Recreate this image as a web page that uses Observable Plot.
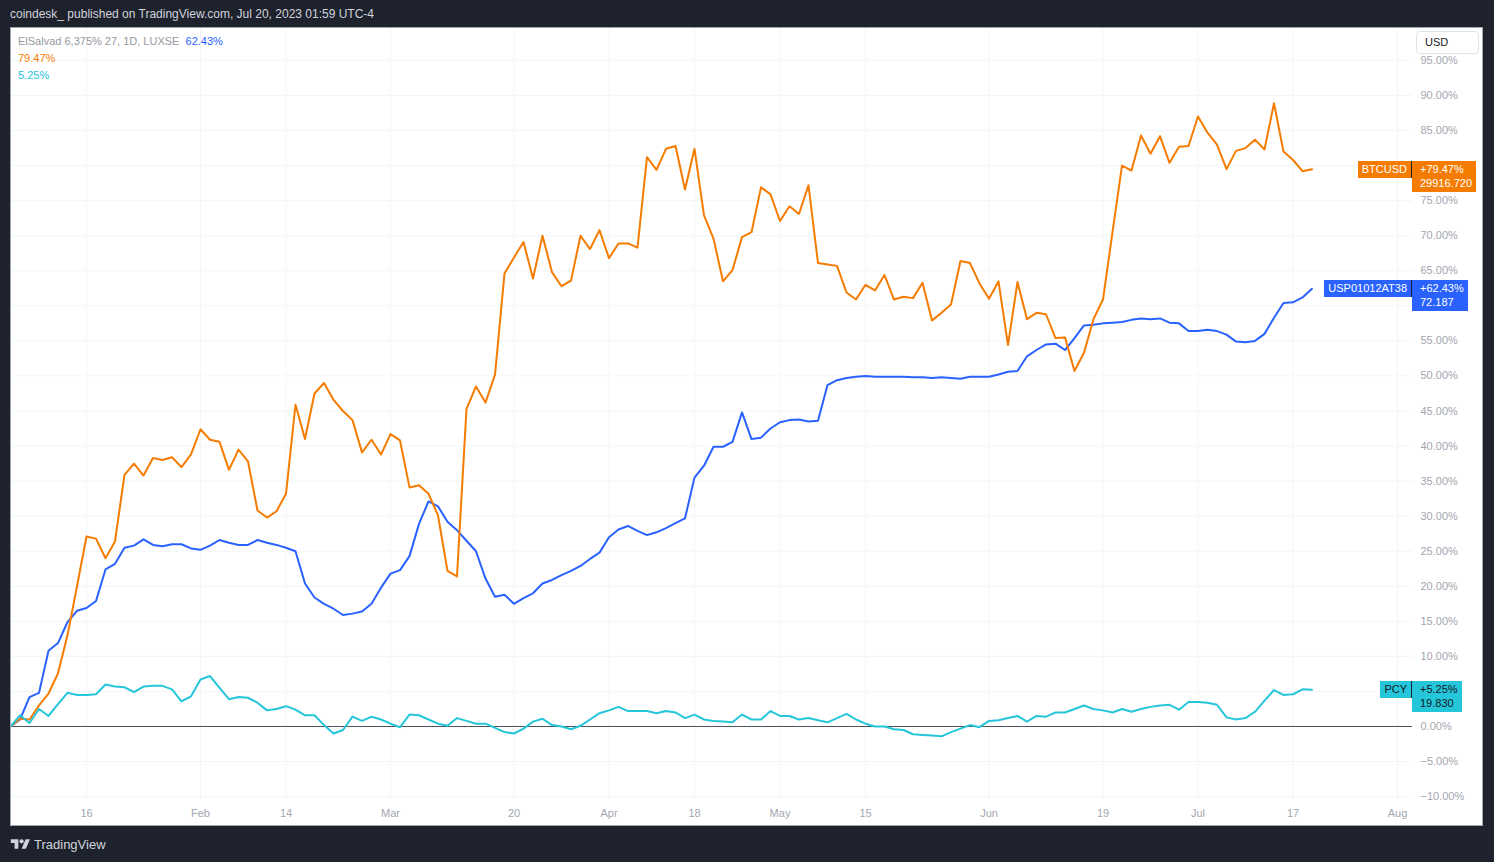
<!DOCTYPE html>
<html>
<head>
<meta charset="utf-8">
<script src="https://cdn.jsdelivr.net/npm/d3@7"></script>
<script src="https://cdn.jsdelivr.net/npm/@observablehq/plot@0.6"></script>
<style>
html,body{margin:0;padding:0;background:#1e222d;width:1494px;height:862px;overflow:hidden;font-family:"Liberation Sans",Arial,sans-serif;}
#root{position:relative;width:1494px;height:862px;}
.abs{position:absolute;}
#header{left:10px;top:6px;font-size:12px;line-height:16px;color:#d1d4dc;white-space:nowrap;}
#panel{left:10px;top:27px;width:1473px;height:799px;background:#fff;}
#border{left:10px;top:27px;width:1473px;height:799px;box-sizing:border-box;border:1px solid #a3a6af;pointer-events:none;}
#legend{left:18px;top:33px;font-size:11px;line-height:17px;white-space:nowrap;}
.tag{font-size:11px;line-height:14px;white-space:nowrap;box-sizing:border-box;}
.tagname{padding:1px 4px 2px 4px;border-right:1px solid #1e222d;}
.tagval{padding:1px 4px 2px 8px;}
#usd{left:1416px;top:31px;width:63px;height:23px;box-sizing:border-box;border:1px solid #e0e3eb;border-radius:4px;background:#fff;font-size:11px;line-height:21px;padding-left:8px;color:#131722;}
#footer{left:10px;top:836px;height:16px;display:flex;align-items:center;color:#d1d4dc;font-size:13px;}
#footer svg{margin-right:3px;}
</style>
</head>
<body>
<div id="root">
  <div id="header" class="abs">coindesk_ published on TradingView.com, Jul 20, 2023 01:59 UTC-4</div>
  <div id="panel" class="abs"></div>
  <div id="priceHolder" class="abs" style="left:10px;top:27px;width:1473px;height:773px;overflow:hidden;"></div>
  <div id="timeHolder" class="abs" style="left:10px;top:800px;width:1473px;height:26px;overflow:hidden;"></div>
  <div id="border" class="abs"></div>
  <div id="legend" class="abs"></div>
  <div id="usd" class="abs">USD</div>
  <div id="footer" class="abs">
    <svg width="21" height="14" viewBox="0 0 36 26" fill="#d1d4dc"><path d="M14 22H7V11H0V4h14v18z"/><circle cx="20" cy="8" r="4"/><path d="M28 22h-8l7.5-18h8z"/></svg>
    <span>TradingView</span>
  </div>
</div>
<script>
// ---- data ----
const tickIndex  = [8, 20, 29, 40, 53, 63, 72, 81, 90, 103, 115, 125, 135, 146];
const tickLabels = ["16", "Feb", "14", "Mar", "20", "Apr", "18", "May", "15", "Jun", "19", "Jul", "17", "Aug"];
const yTicks = [-10, -5, 0, 5, 10, 15, 20, 25, 30, 35, 40, 45, 50, 55, 60, 65, 70, 75, 80, 85, 90, 95];

// % change per trading-day bar (Jan 4 .. Jul 19, 2023)
const btc = [
  0, 1.1, 1.0, 3.0, 4.7, 7.6, 13.0, 20.0, 27.1, 26.8,
  24.0, 26.4, 35.9, 37.5, 35.8, 38.3, 38.0, 38.4, 37.0, 38.8,
  42.4, 40.9, 40.6, 36.6, 39.5, 37.8, 30.8, 29.8, 30.7, 33.2,
  45.9, 41.0, 47.5, 49.0, 46.6, 45.0, 43.7, 39.1, 40.9, 38.8,
  41.7, 40.8, 34.1, 34.4, 33.2, 30.1, 22.2, 21.4, 45.3, 48.5,
  46.2, 50.2, 64.6, 66.9, 69.1, 63.9, 70.0, 64.8, 62.8, 63.6,
  70.0, 68.1, 70.8, 66.8, 68.9, 68.9, 68.3, 81.2, 79.4, 82.4,
  82.8, 76.6, 82.4, 72.9, 69.6, 63.5, 65.1, 69.8, 70.5, 76.9,
  75.9, 72.1, 74.2, 73.1, 77.2, 66.1, 65.9, 65.7, 61.9, 60.9,
  63.0, 62.2, 64.4, 60.9, 61.3, 61.1, 63.3, 57.9, 59.0, 60.2,
  66.4, 66.1, 63.2, 61.0, 63.5, 54.4, 63.4, 58.1, 59.0, 58.8,
  55.4, 55.5, 50.7, 53.3, 58.1, 60.9, 70.5, 80.0, 79.3, 84.3,
  81.7, 84.2, 80.4, 82.7, 82.8, 87.0, 84.7, 83.0, 79.5, 82.1,
  82.5, 83.7, 82.3, 88.9, 82.0, 80.8, 79.2, 79.47
];
const bond = [
  0, 1.0, 4.2, 4.8, 10.8, 11.9, 14.9, 16.5, 16.9, 17.9,
  22.4, 23.2, 25.5, 25.8, 26.7, 25.9, 25.7, 26.0, 26.0, 25.4,
  25.2, 25.8, 26.6, 26.2, 25.9, 25.9, 26.6, 26.2, 25.9, 25.5,
  25.0, 20.4, 18.4, 17.5, 16.8, 15.9, 16.1, 16.4, 17.5, 19.8,
  21.8, 22.3, 24.3, 28.9, 32.1, 31.4, 29.2, 28.0, 26.5, 25.0,
  21.1, 18.5, 18.8, 17.5, 18.3, 19.0, 20.4, 20.9, 21.6, 22.2,
  22.9, 23.9, 24.8, 27.0, 28.1, 28.6, 27.9, 27.3, 27.7, 28.3,
  29.0, 29.7, 35.5, 37.2, 39.9, 39.9, 40.6, 44.8, 41.0, 41.2,
  42.5, 43.4, 43.7, 43.8, 43.5, 43.6, 48.7, 49.4, 49.7, 49.9,
  50.0, 49.9, 49.9, 49.9, 49.9, 49.8, 49.8, 49.7, 49.8, 49.7,
  49.6, 49.9, 49.9, 49.9, 50.2, 50.6, 50.7, 52.8, 53.7, 54.5,
  54.6, 53.7, 55.4, 57.2, 57.3, 57.5, 57.6, 57.7, 58.0, 58.2,
  58.1, 58.2, 57.6, 57.5, 56.4, 56.4, 56.6, 56.4, 55.9, 54.9,
  54.8, 55.0, 56.0, 58.3, 60.4, 60.5, 61.2, 62.43
];
const pcy = [
  0, 1.6, 0.5, 2.5, 1.5, 3.2, 4.8, 4.5, 4.5, 4.6,
  6.0, 5.7, 5.6, 4.9, 5.7, 5.8, 5.8, 5.3, 3.6, 4.3,
  6.7, 7.2, 5.5, 3.9, 4.2, 4.1, 3.4, 2.3, 2.5, 2.9,
  2.4, 1.6, 1.6, 0.2, -1.0, -0.5, 1.4, 0.8, 1.4, 1.0,
  0.4, -0.1, 1.7, 1.6, 1.0, 0.4, 0.1, 1.2, 0.8, 0.4,
  0.4, -0.2, -0.8, -1.0, -0.3, 0.7, 1.1, 0.2, 0.0, -0.4,
  0.1, 1.0, 1.9, 2.3, 2.8, 2.2, 2.2, 2.2, 1.9, 2.2,
  2.0, 1.2, 1.7, 1.0, 0.8, 0.7, 0.6, 1.7, 1.0, 1.0,
  2.2, 1.5, 1.5, 1.0, 1.2, 0.9, 0.6, 1.2, 1.8, 1.0,
  0.4, 0.0, 0.0, -0.4, -0.5, -1.1, -1.2, -1.3, -1.4, -0.8,
  -0.3, 0.2, -0.1, 0.8, 0.9, 1.2, 1.5, 0.7, 1.5, 1.4,
  2.0, 2.0, 2.5, 3.0, 2.5, 2.3, 2.0, 2.5, 2.1, 2.5,
  2.8, 3.0, 3.1, 2.4, 3.5, 3.5, 3.4, 3.1, 1.3, 1.0,
  1.2, 2.1, 3.7, 5.2, 4.5, 4.6, 5.3, 5.25
];
const seriesNames  = ["USP01012AT38", "BTCUSD", "PCY"];
const lastPrices   = ["72.187", "29916.720", "19.830"];
const legendLabel  = "ElSalvad 6,375% 27, 1D, LUXSE";

// ---- styles ----
const colors = {USP01012AT38: "#2962ff", BTCUSD: "#f57c00", PCY: "#26c6da"};
const tagText = {USP01012AT38: "#ffffff", BTCUSD: "#ffffff", PCY: "#131722"};
const seriesValues = [bond, btc, pcy];

const W = 1473, H = 773, MR = 71, barPx = 9.5;
const xDomain = [0, (W - MR) / barPx];
const yDomain = [-10.555, 99.70];
const axisColor = "#a3a6af";
const TAG_UP = 8, TAG_DOWN = 23;
const last = arr => arr[arr.length - 1];

// tick labels hidden behind the price tags (as on the reference, where the tags cover them)
const yPre = d3.scaleLinear().domain(yDomain).range([H, 0]);
const covered = t => seriesValues.some(vals => {
  const p = yPre(last(vals)), q = yPre(t);
  return q >= p - TAG_UP && q <= p + TAG_DOWN;
});
const fmt = d => covered(d) ? "" : (d < 0 ? "\u2212" : "") + Math.abs(d).toFixed(2) + "%";

const rows = seriesNames.flatMap((name, k) => seriesValues[k].map((v, i) => ({name, i, v})));

const lineMarks = seriesNames.map(name =>
  Plot.line(rows.filter(r => r.name === name), {
    x: "i", y: "v", stroke: colors[name], strokeWidth: 2, strokeLinejoin: "round"
  })
);

const price = Plot.plot({
  width: W, height: H,
  marginLeft: 0, marginRight: MR, marginTop: 0, marginBottom: 0,
  style: {background: "transparent", fontFamily: "Liberation Sans, Arial, sans-serif", fontSize: "11px", color: axisColor, maxWidth: "none"},
  x: {domain: xDomain, axis: null},
  y: {domain: yDomain, axis: "right", ticks: yTicks, tickFormat: fmt, tickSize: 0, tickPadding: 8, label: null},
  marks: [
    Plot.ruleX(tickIndex, {stroke: "#f4f5f8"}),
    Plot.ruleY(yTicks, {stroke: "#f4f5f8"}),
    Plot.ruleY([0], {stroke: "#50535e", strokeWidth: 1}),
    ...lineMarks
  ]
});
document.getElementById("priceHolder").appendChild(price);

const time = Plot.plot({
  width: W, height: 26,
  marginLeft: 0, marginRight: MR, marginTop: 0, marginBottom: 0,
  style: {background: "transparent", fontFamily: "Liberation Sans, Arial, sans-serif", fontSize: "11px", maxWidth: "none"},
  x: {domain: xDomain, axis: null},
  marks: [
    Plot.text(tickIndex, {x: d => d, text: (d, i) => tickLabels[i], frameAnchor: "middle", fill: axisColor, fontSize: 11})
  ]
});
document.getElementById("timeHolder").appendChild(time);

// ---- legend ----
const legend = document.getElementById("legend");
legend.innerHTML =
  `<div><span style="color:#9598a1">${legendLabel}</span>&nbsp;&nbsp;<span style="color:${colors.USP01012AT38}">${last(bond).toFixed(2)}%</span></div>` +
  `<div style="color:${colors.BTCUSD}">${last(btc).toFixed(2)}%</div>` +
  `<div style="color:${colors.PCY}">${last(pcy).toFixed(2)}%</div>`;

// ---- price-scale tags ----
let yScale;
try { yScale = price.scale("y"); } catch (e) { yScale = null; }
const yPix = v => yScale && yScale.apply ? yScale.apply(v) : yPre(v);
const root = document.getElementById("root");
seriesNames.forEach((name, k) => {
  const v = last(seriesValues[k]);
  const top = 27 + yPix(v) - TAG_UP;
  const nm = document.createElement("div");
  nm.className = "abs tag tagname";
  nm.style.cssText = `top:${top}px;right:${1494 - 1412}px;background:${colors[name]};color:${tagText[name]};`;
  nm.textContent = name;
  root.appendChild(nm);
  const val = document.createElement("div");
  val.className = "abs tag tagval";
  val.style.cssText = `top:${top}px;left:1412px;background:${colors[name]};color:${tagText[name]};`;
  val.innerHTML = `${v >= 0 ? "+" : "\u2212"}${Math.abs(v).toFixed(2)}%<br>${lastPrices[k]}`;
  root.appendChild(val);
});
</script>
</body>
</html>
